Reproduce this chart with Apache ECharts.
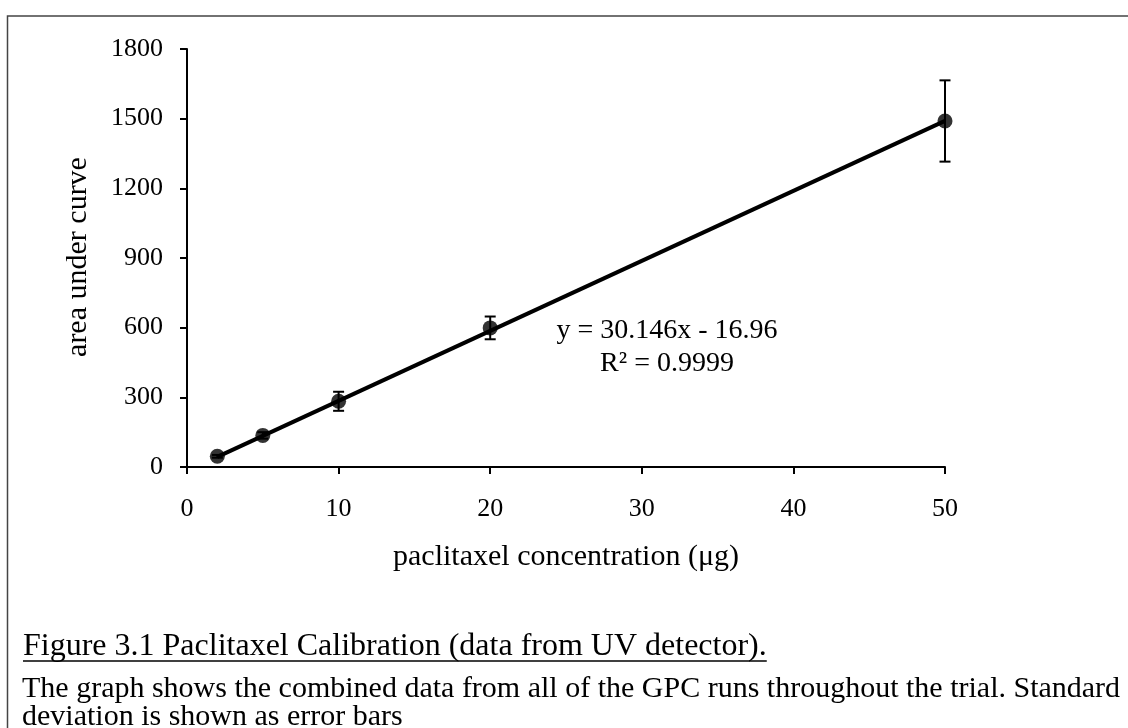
<!DOCTYPE html>
<html>
<head>
<meta charset="utf-8">
<script src="https://cdn.jsdelivr.net/npm/echarts@6/dist/echarts.min.js"></script>
<style>
  html, body { margin: 0; padding: 0; background: #fff; }
  #chart { width: 1128px; height: 728px; }
</style>
</head>
<body>
<div id="chart"></div>
<script>
// Calibration points: paclitaxel amount (µg) vs. detector peak area
const concentration = [2, 5, 10, 20, 50];
const areaMean = [46, 136, 283, 599, 1490];
const areaSD = [6, 14, 41, 49, 175];

// Linear fit reported on the chart
const slope = 30.146;
const intercept = -16.96;
const rSquared = '0.9999';

const xTickStep = 10;
const yTickStep = 300;

const captionTitle = 'Figure 3.1 Paclitaxel Calibration (data from UV detector).';
const captionBody1 = 'The graph shows the combined data from all of the GPC runs throughout the trial. Standard';
const captionBody2 = 'deviation is shown as error bars';

const serif = 'Liberation Serif, Times New Roman, serif';

function textWidth(text, font) {
  const ctx = document.createElement('canvas').getContext('2d');
  ctx.font = font;
  return ctx.measureText(text).width;
}

const chart = echarts.init(document.getElementById('chart'), null, { renderer: 'canvas' });

const xFirst = concentration[0];
const xLast = concentration[concentration.length - 1];
const fitLine = [
  [xFirst, slope * xFirst + intercept],
  [xLast, slope * xLast + intercept]
];

const points = concentration.map((c, i) => [c, areaMean[i], areaSD[i]]);

const titleFont = '32px ' + serif;
const bodyFont = '30px ' + serif;
const titleWidth = textWidth(captionTitle, titleFont);

function captionLine(text, font, x, y) {
  return {
    type: 'text', x: x, y: y,
    style: { text: text, font: font, fill: '#000', textAlign: 'left', textVerticalAlign: 'middle' }
  };
}

const option = {
  animation: false,
  backgroundColor: '#fff',
  grid: { left: 187, top: 49, right: 183, bottom: 261, containLabel: false },
  xAxis: {
    type: 'value', min: 0, max: 50, interval: xTickStep,
    axisLine: { show: true, lineStyle: { color: '#000', width: 2 } },
    axisTick: { show: true, inside: false, length: 7, lineStyle: { color: '#000', width: 2 } },
    splitLine: { show: false },
    axisLabel: { color: '#000', fontFamily: serif, fontSize: 26, margin: 29 }
  },
  yAxis: {
    type: 'value', min: 0, max: 1800, interval: yTickStep,
    axisLine: { show: true, lineStyle: { color: '#000', width: 2 } },
    axisTick: { show: true, inside: false, length: 7, lineStyle: { color: '#000', width: 2 } },
    splitLine: { show: false },
    axisLabel: { color: '#000', fontFamily: serif, fontSize: 26, margin: 24,
                 formatter: v => String(v) }
  },
  series: [
    {
      name: 'fit', type: 'line', data: fitLine, symbol: 'none',
      lineStyle: { color: '#000', width: 4 }, z: 2
    },
    {
      name: 'sd', type: 'custom', data: points, z: 3,
      renderItem: function (params, api) {
        const x = api.value(0), y = api.value(1), e = api.value(2);
        const top = api.coord([x, y + e]);
        const bot = api.coord([x, y - e]);
        const cap = 5.5;
        const style = { stroke: '#000', lineWidth: 2 };
        return {
          type: 'group',
          children: [
            { type: 'line', shape: { x1: top[0], y1: top[1], x2: bot[0], y2: bot[1] }, style },
            { type: 'line', shape: { x1: top[0] - cap, y1: top[1], x2: top[0] + cap, y2: top[1] }, style },
            { type: 'line', shape: { x1: bot[0] - cap, y1: bot[1], x2: bot[0] + cap, y2: bot[1] }, style }
          ]
        };
      }
    },
    {
      name: 'area', type: 'scatter', data: points, symbol: 'circle', symbolSize: 15,
      itemStyle: { color: '#000' }, z: 4
    }
  ],
  graphic: [
    // frame around the figure
    { type: 'rect', shape: { x: 7.5, y: 16, width: 1140, height: 740 },
      style: { fill: 'none', stroke: '#444', lineWidth: 1.5 }, silent: true },
    // axis titles
    { type: 'text', x: 566, y: 557,
      style: { text: 'paclitaxel concentration (\u03bcg)', font: '30px ' + serif, fill: '#000',
               textAlign: 'center', textVerticalAlign: 'middle' } },
    { type: 'text', x: 78, y: 257, rotation: Math.PI / 2,
      style: { text: 'area under curve', font: '30px ' + serif, fill: '#000',
               textAlign: 'center', textVerticalAlign: 'middle' } },
    // fit equation
    { type: 'text', x: 667, y: 331,
      style: { text: 'y = ' + slope + 'x - ' + Math.abs(intercept), font: '28px ' + serif, fill: '#000',
               textAlign: 'center', textVerticalAlign: 'middle' } },
    { type: 'text', x: 667, y: 364,
      style: { text: 'R\u00b2 = ' + rSquared, font: '28px ' + serif, fill: '#000',
               textAlign: 'center', textVerticalAlign: 'middle' } },
    // caption
    captionLine(captionTitle, titleFont, 23, 647),
    { type: 'line', shape: { x1: 23, y1: 661, x2: 23 + titleWidth, y2: 661 },
      style: { stroke: '#000', lineWidth: 1.5 } },
    captionLine(captionBody1, bodyFont, 22, 689),
    captionLine(captionBody2, bodyFont, 22, 717)
  ]
};

chart.setOption(option);
</script>
</body>
</html>
